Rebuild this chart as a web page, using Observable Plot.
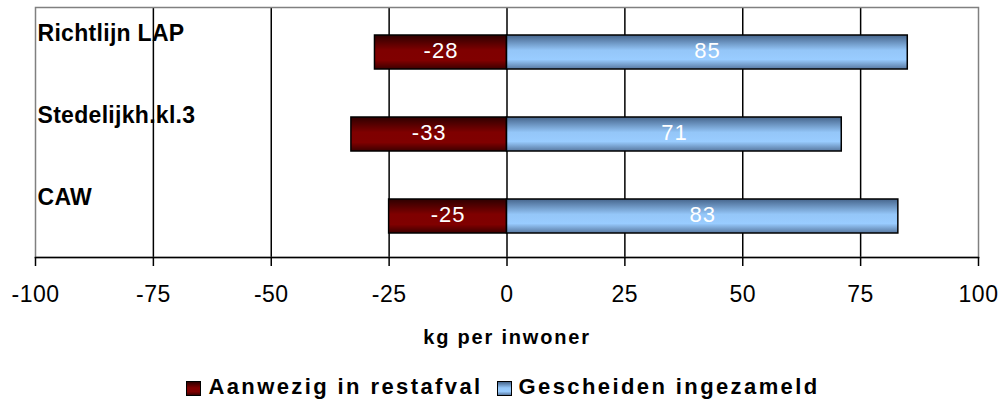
<!DOCTYPE html>
<html><head><meta charset="utf-8">
<script src="https://cdn.jsdelivr.net/npm/d3@7"></script>
<script src="https://cdn.jsdelivr.net/npm/@observablehq/plot@0.6"></script>
<style>
body{margin:0;background:#fff;font-family:"Liberation Sans",Arial,sans-serif;overflow:hidden}
#chart svg{display:block}
g[aria-label="x-axis tick label"] text{letter-spacing:0.5px}
#legend{height:48px;display:flex;justify-content:center;align-items:flex-start;padding-top:21px;box-sizing:border-box;font-weight:bold;font-size:22px;letter-spacing:2.4px;color:#000;line-height:22px;white-space:nowrap}
#legend .item{display:flex;align-items:flex-start}
#legend .sw{width:13px;height:13px;border:1px solid #000;margin-right:7px;margin-top:5px;flex:none}
#legend .item + .item{margin-left:14px}
</style></head>
<body>
<div id="chart"></div>
<div id="legend"></div>
<script>
const categories = ["Richtlijn LAP", "Stedelijkh.kl.3", "CAW"];
const restafval = [-28, -33, -25];
const gescheiden = [85, 71, 83];
const seriesNames = ["Aanwezig in restafval", "Gescheiden ingezameld"];
const xTicks = [-100, -75, -50, -25, 0, 25, 50, 75, 100];
const axisTitle = "kg per inwoner";

const font = '"Liberation Sans", Arial, sans-serif';
const rows = [];
categories.forEach((c, i) => {
  rows.push({cat: c, series: seriesNames[0], value: restafval[i]});
  rows.push({cat: c, series: seriesNames[1], value: gescheiden[i]});
});
const gridTicks = xTicks.filter(t => t > d3.min(xTicks) && t < d3.max(xTicks));

const plot = Plot.plot({
  width: 1006,
  height: 355,
  marginLeft: 35,
  marginRight: 28,
  marginTop: 7,
  marginBottom: 98,
  style: {fontFamily: font, background: "white", overflow: "visible"},
  x: {domain: [d3.min(xTicks), d3.max(xTicks)], axis: null},
  y: {domain: categories, range: [9, 258.5], paddingInner: 0.59, paddingOuter: 0.3, axis: null},
  marks: [
    Plot.gridX(gridTicks, {stroke: "#000", strokeOpacity: 1, strokeWidth: 1.5}),
    Plot.frame({stroke: "#808080", strokeWidth: 1.5}),
    Plot.barX(rows.filter(d => d.series === seriesNames[0]), {x1: 0, x2: "value", y: "cat", fill: "url(#gRed)", stroke: "#000", strokeWidth: 1.5}),
    Plot.barX(rows.filter(d => d.series === seriesNames[1]), {x1: 0, x2: "value", y: "cat", fill: "url(#gBlue)", stroke: "#000", strokeWidth: 1.5}),
    Plot.frame({anchor: "bottom", stroke: "#000", strokeWidth: 1.5}),
    Plot.axisX({ticks: xTicks, tickSize: 9, tickPadding: 19, fontSize: 23, tickFormat: d => String(d), label: null, stroke: "#000", strokeWidth: 1.5, fill: "#000"}),
    Plot.text(rows, {x: d => d.value / 2, y: "cat", text: d => String(d.value), fill: "white", fontSize: 22, dy: -2}),
    Plot.text(categories, {y: d => d, frameAnchor: "left", text: d => d, textAnchor: "start", dx: 2, dy: -19, fontSize: 23, fontWeight: "bold", fill: "#000"}),
    Plot.text([axisTitle], {frameAnchor: "bottom", text: d => d, dy: 86, fontSize: 20, fontWeight: "bold", fill: "#000"})
  ]
});

// gradients
const ns = "http://www.w3.org/2000/svg";
const defs = document.createElementNS(ns, "defs");
function grad(id, stops) {
  const g = document.createElementNS(ns, "linearGradient");
  g.setAttribute("id", id);
  g.setAttribute("x1", "0"); g.setAttribute("y1", "0");
  g.setAttribute("x2", "0"); g.setAttribute("y2", "1");
  for (const [o, c] of stops) {
    const s = document.createElementNS(ns, "stop");
    s.setAttribute("offset", o);
    s.setAttribute("stop-color", c);
    g.appendChild(s);
  }
  defs.appendChild(g);
}
const redStops = [["0", "#2e0000"], ["0.45", "#7f0000"], ["0.75", "#800000"], ["1", "#3c0000"]];
const blueStops = [["0", "#46658c"], ["0.45", "#94c6f8"], ["0.72", "#99ccff"], ["1", "#5878a0"]];
grad("gRed", redStops);
grad("gBlue", blueStops);
plot.insertBefore(defs, plot.firstChild);

const textGroups = plot.querySelectorAll('g[aria-label="text"]');
if (textGroups[0]) textGroups[0].style.letterSpacing = "1px";
if (textGroups[1]) textGroups[1].style.letterSpacing = "0.3px";
if (textGroups[2]) textGroups[2].style.letterSpacing = "1.8px";

document.getElementById("chart").appendChild(plot);

// legend
const cssGrad = stops => "linear-gradient(to bottom," + stops.map(([o, c]) => c + " " + (o * 100) + "%").join(",") + ")";
const legend = document.getElementById("legend");
seriesNames.forEach((name, i) => {
  const item = document.createElement("div");
  item.className = "item";
  const sw = document.createElement("span");
  sw.className = "sw";
  sw.style.background = cssGrad(i === 0 ? redStops : blueStops);
  const t = document.createElement("span");
  t.textContent = name;
  item.appendChild(sw);
  item.appendChild(t);
  legend.appendChild(item);
});
</script>
</body></html>
